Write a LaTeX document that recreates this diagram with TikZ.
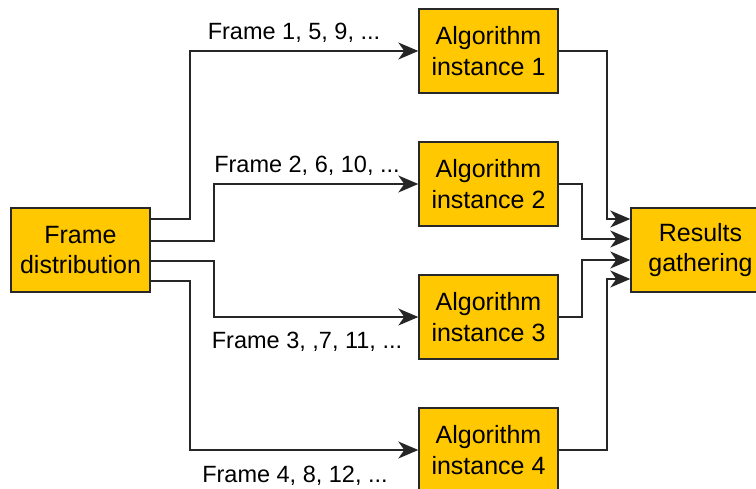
\documentclass[tikz,border=0pt]{standalone}
\usepackage{fontspec}
\setmainfont{Liberation Sans}
\usetikzlibrary{arrows.meta}
\definecolor{boxfill}{RGB}{255,200,0}
\definecolor{boxline}{RGB}{40,40,40}
\begin{document}
\begin{tikzpicture}[x=1pt,y=-1pt,
  box/.style={draw=boxline, line width=1.4pt, fill=boxfill, minimum width=139pt, minimum height=84pt, inner sep=0pt, align=center, font=\fontsize{25}{30.5}\selectfont},
  lbl/.style={anchor=base, inner sep=0pt, font=\fontsize{23.5}{28}\selectfont},
  conn/.style={draw=black!85, line width=1.6pt, -{Stealth[length=20pt,width=17pt,inset=6pt]}}]
\useasboundingbox (0,0) rectangle (756,488);
\clip (0,0) rectangle (756,488);
\fill[white] (0,0) rectangle (756,488);
\node[box] (fd) at (80.5,250) {Frame\\distribution};
\node[box] (a1) at (488.5,51) {Algorithm\\instance 1};
\node[box] (a2) at (488.5,184) {Algorithm\\instance 2};
\node[box] (a3) at (488.5,317) {Algorithm\\instance 3};
\node[box] (a4) at (488.5,450) {Algorithm\\instance 4};
\node[box] (res) at (700.5,250) {Results\\gathering};
\node[lbl] (l1) at (294,39) {Frame 1, 5, 9, ...};
\node[lbl] (l2) at (307,172) {Frame 2, 6, 10, ...};
\node[lbl] (l3) at (307,348) {Frame 3, ,7, 11, ...};
\node[lbl] (l4) at (295,482) {Frame 4, 8, 12, ...};
% distribution
\draw[conn] ([yshift=31pt]fd.east) -- (190,219) |- (a1.west);
\draw[conn] ([yshift=9pt]fd.east) -- (214,241) |- (a2.west);
\draw[conn] ([yshift=-11pt]fd.east) -- (214,261) |- (a3.west);
\draw[conn] ([yshift=-31pt]fd.east) -- (190,281) |- (a4.west);
% gathering
\draw[conn] (a1.east) -| (607,219) -- ([yshift=31pt]res.west);
\draw[conn] (a2.east) -| (582,239) -- ([yshift=11pt]res.west);
\draw[conn] (a3.east) -| (582,260) -- ([yshift=-10pt]res.west);
\draw[conn] (a4.east) -| (607,279) -- ([yshift=-29pt]res.west);
\end{tikzpicture}
\end{document}
